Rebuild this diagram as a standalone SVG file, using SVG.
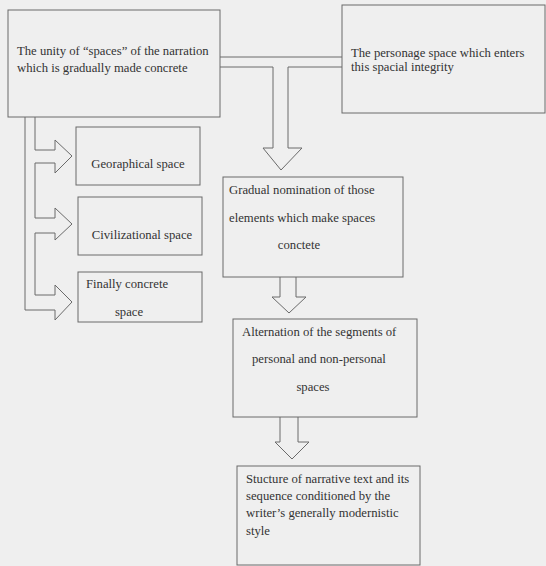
<svg xmlns="http://www.w3.org/2000/svg" width="546" height="566" viewBox="0 0 546 566">
<style>
.box{fill:none;stroke:#6a6a6a;stroke-width:1}
.con{fill:none;stroke:#6a6a6a;stroke-width:1;stroke-linejoin:miter}
text{font-family:"Liberation Serif","Times New Roman",serif;font-size:12.7px;fill:#333}
.c{text-anchor:middle}
</style>
<rect x="0" y="0" width="546" height="566" fill="#efefef"/>
<g id="connectors">
<path class="con" d="M220,57 H342 M220,67 H273 V148 H263 L281,170 L302,148 H288 V67 H342"/>
<path class="con" d="M25,117 V310 H55 V320 L72,302 L55,285 V295 H35 V233 H55 V240 L72,224 L55,208 V218 H35 V163 H55 V173 L72,156 L55,140 V150 H35 V117"/>
<path class="con" d="M280,277 V297 H272 L289,313 L306,297 H296 V277"/>
<path class="con" d="M280,417 V442 H275 L292,459 L309,442 H298 V417"/>
</g>
<g id="unity">
<rect class="box" x="8" y="10" width="212" height="107"/>
<text x="17" y="55">The unity of “spaces” of the narration</text>
<text x="17" y="72">which is gradually made concrete</text>
</g>
<g id="personage">
<rect class="box" x="342" y="5" width="203" height="108"/>
<text x="351" y="57">The personage space which enters</text>
<text x="351" y="71">this spacial integrity</text>
</g>
<g id="geo">
<rect class="box" x="76" y="127" width="124" height="58"/>
<text class="c" x="138" y="168">Georaphical space</text>
</g>
<g id="civ">
<rect class="box" x="78" y="197" width="124" height="58"/>
<text class="c" x="142" y="239">Civilizational space</text>
</g>
<g id="finally">
<rect class="box" x="78" y="272" width="124" height="50"/>
<text x="86" y="288">Finally concrete</text>
<text class="c" x="129" y="316">space</text>
</g>
<g id="gradual">
<rect class="box" x="223" y="177" width="180" height="100"/>
<text x="229" y="194">Gradual nomination of those</text>
<text x="229" y="222">elements which make spaces</text>
<text class="c" x="299" y="249">conctete</text>
</g>
<g id="alternation">
<rect class="box" x="233" y="319" width="184" height="98"/>
<text x="242" y="336">Alternation of the segments of</text>
<text x="252" y="363">personal and non-personal</text>
<text class="c" x="313" y="391">spaces</text>
</g>
<g id="structure">
<rect class="box" x="237" y="466" width="183" height="99"/>
<text x="246" y="483">Stucture of narrative text and its</text>
<text x="246" y="500">sequence conditioned by the</text>
<text x="246" y="517">writer’s generally modernistic</text>
<text x="246" y="535">style</text>
</g>
</svg>
